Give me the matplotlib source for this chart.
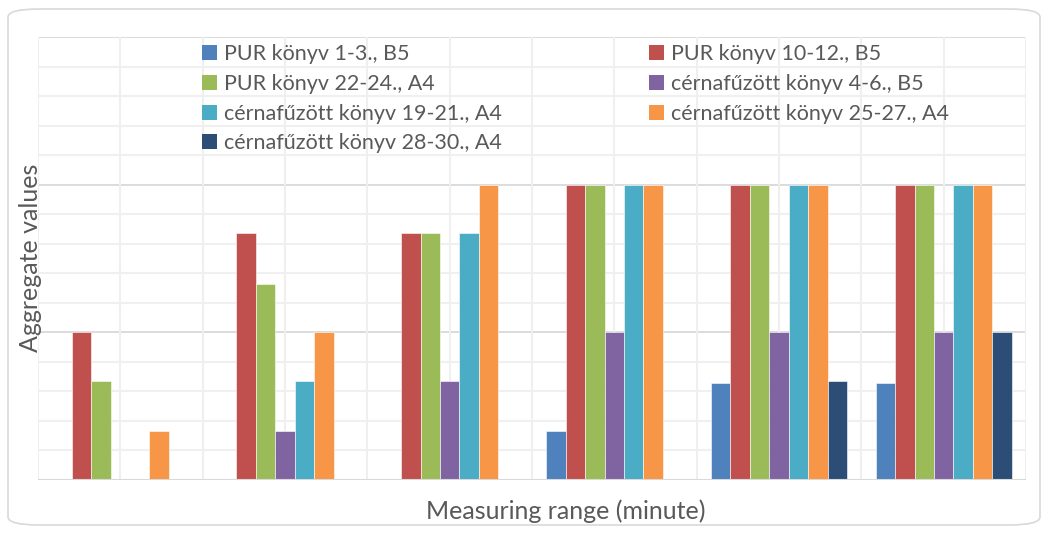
import numpy as np
import matplotlib
matplotlib.use("Agg")
import matplotlib.pyplot as plt
from matplotlib.patches import FancyBboxPatch, Patch

plt.rcParams['font.family'] = ['Lato', 'DejaVu Sans']

categories = ["1", "2", "3", "4", "5", "6"]
series = [
    "PUR könyv 1-3., B5",
    "PUR könyv 10-12., B5",
    "PUR könyv 22-24., A4",
    "cérnafűzött könyv 4-6., B5",
    "cérnafűzött könyv 19-21., A4",
    "cérnafűzött könyv 25-27., A4",
    "cérnafűzött könyv 28-30., A4",
]
colors = ["#4F81BD", "#C0504D", "#9BBB59", "#8064A2", "#4BACC6", "#F79646", "#2C4D75"]

pur_1_3 = [0, 0, 0, 0.33, 0.66, 0.66]
pur_10_12 = [1, 1.67, 1.67, 2, 2, 2]
pur_22_24 = [0.67, 1.33, 1.67, 2, 2, 2]
cerna_4_6 = [0, 0.33, 0.67, 1, 1, 1]
cerna_19_21 = [0, 0.67, 1.67, 2, 2, 2]
cerna_25_27 = [0.33, 1, 2, 2, 2, 2]
cerna_28_30 = [0, 0, 0, 0, 0.67, 1]
values = [pur_1_3, pur_10_12, pur_22_24, cerna_4_6, cerna_19_21, cerna_25_27, cerna_28_30]

fig = plt.figure(figsize=(10.46, 5.33), dpi=100)
fig.patch.set_facecolor("white")

# rounded chart border
border = FancyBboxPatch((8 / 1046, 8 / 533), 1032 / 1046, 516 / 533,
                        boxstyle="round,pad=0,rounding_size=0.03",
                        transform=fig.transFigure, fill=False,
                        edgecolor="#D9D9D9", linewidth=1.2, mutation_aspect=533 / 1046)
fig.patches.append(border)

ax = fig.add_axes([38 / 1046, 1 - 480 / 533, 988 / 1046, 443 / 533])

x = np.arange(len(categories))
w = 0.118
for i, (vals, c) in enumerate(zip(values, colors)):
    ax.bar(x + (i - 3) * w, vals, width=w, color=c, edgecolor="white", linewidth=0.4, zorder=3)

ax.set_xlim(-0.5, len(categories) - 0.5)
ax.set_ylim(0, 3)

# grid
for yv in np.arange(0.2, 3.0, 0.2):
    major = abs(yv - round(yv)) < 1e-6
    ax.axhline(yv, color="#D9D9D9" if major else "#F0F0F0", lw=1.3 if major else 1.5, zorder=1)
ax.axhline(3, color="#D9D9D9", lw=1.3, zorder=1)
for xv in np.arange(-0.5, len(categories), 0.5):
    ax.axvline(xv, color="#EFEFEF", lw=1.5, zorder=1)
ax.axhline(0, color="#D9D9D9", lw=1.5, zorder=4)

ax.set_xticks([])
ax.set_yticks([])
for s in ax.spines.values():
    s.set_visible(False)

fig.text(566 / 1046, 1 - 511 / 533, "Measuring range (minute)", ha="center", va="center",
         fontsize=18, color="#595959")
fig.text(31 / 1046, 1 - 258 / 533, "Aggregate values", ha="center", va="center",
         rotation=90, fontsize=18, color="#595959")

order = [0, 2, 4, 6, 1, 3, 5]
handles = [Patch(facecolor=colors[k], edgecolor="none") for k in order]
labels = [series[k] for k in order]
leg = fig.legend(handles, labels, ncol=2, loc="upper left",
                 bbox_to_anchor=(198 / 1046, 1 - 40 / 533), frameon=False,
                 fontsize=15.5, labelcolor="#595959", handlelength=0.7, handleheight=0.7,
                 handletextpad=0.3, columnspacing=6.85, labelspacing=0.45, borderpad=0.2,
                 borderaxespad=0)

fig.savefig("out.png", dpi=100)
